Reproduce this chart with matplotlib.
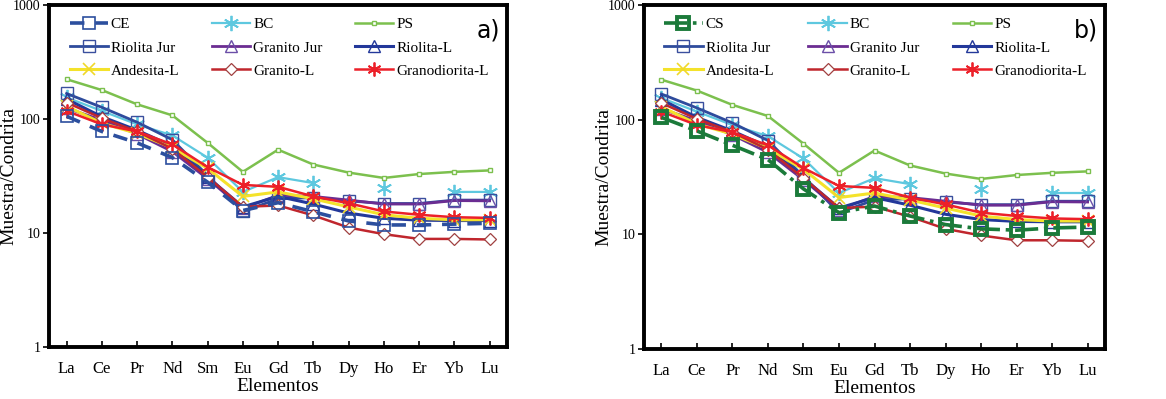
import numpy as np
import matplotlib
matplotlib.use('Agg')
import matplotlib.pyplot as plt

nan = np.nan
elementos = ['La', 'Ce', 'Pr', 'Nd', 'Sm', 'Eu', 'Gd', 'Tb', 'Dy', 'Ho', 'Er', 'Yb', 'Lu']

ce = [106, 78, 62, 46, 28, 15.8, 18.5, 15.4, 12.8, 11.8, 11.8, 12.0, 12.2]
cs = [105, 80, 60, 45, 25, 15.5, 17.7, 14.5, 12.2, 11.2, 10.9, 11.4, 11.6]
bc = [155, 118, 90, 72, 46, 23, 31, 27.5, nan, 25, nan, 23, 23]
ps = [224, 180, 135, 108, 62, 34.5, 54, 40, 34, 30.5, 33, 34.5, 35.5]
riolita_jur = [168, 127, 94, 66, 32, 15.5, 20, 20.5, 19.2, 18.2, 18.2, 19.5, 19.5]
granito_jur = [125, 98, 74, 52, 30, 16.5, 21.5, 21, 19.5, 18, 18, 19.3, 19.2]
riolita_l = [150, 105, 80, 58, 31, 17, 21, 18, 15, 13.5, 13, 12.9, 12.9]
andesita_l = [130, 92, 75, 56, 37, 21, 23, 20, 17, 14.5, 13.5, 13.1, 13.1]
granito_l = [140, 102, 78, 55, 31, 17, 17.5, 14.3, 11.2, 9.8, 8.9, 8.9, 8.8]
granodiorita_l = [118, 90, 78, 60, 38, 26.5, 25.5, 21, 18.3, 15.5, 14.5, 13.8, 13.6]

plt.rcParams['font.family'] = ['Liberation Serif', 'DejaVu Serif']

ASTER = (6, 2, 0)


def panel(ax, primero, etiqueta):
    x = np.arange(len(elementos))
    if primero == 'CE':
        ax.plot(x, ce, '--', color='#2c4f9e', lw=2.6, marker='s', ms=9, mfc='none',
                mec='#2c4f9e', mew=1.2, dashes=(4, 3), label='CE', zorder=3)
    else:
        ax.plot(x, cs, '-.', color='#1b7a3a', lw=2.6, marker='s', ms=9, mfc='none',
                mec='#1b7a3a', mew=2.8, label='CS', zorder=3)
    ax.plot(x, bc, '-', color='#5ec8df', lw=1.6, marker=ASTER, ms=11, mew=1.3,
            label='BC')
    ax.plot(x, ps, '-', color='#7cc04e', lw=1.8, marker='s', ms=3.5, mfc='white',
            mec='#7cc04e', label='PS')
    ax.plot(x, riolita_jur, '-', color='#2e4b9c', lw=2.0, marker='s', ms=9, mfc='none',
            mec='#3a4f9e', mew=1.0, label='Riolita Jur')
    ax.plot(x, granito_jur, '-', color='#6b2d92', lw=2.0, marker='^', ms=8, mfc='none',
            mec='#6b4fa8', mew=1.0, label='Granito Jur')
    ax.plot(x, riolita_l, '-', color='#23389a', lw=2.2, marker='^', ms=8, mfc='none',
            mec='#23389a', mew=1.0, label='Riolita-L')
    ax.plot(x, andesita_l, '-', color='#f4e22b', lw=2.2, marker='x', ms=8, mfc='none',
            mec='#f0d82a', mew=1.2, label='Andesita-L')
    ax.plot(x, granito_l, '-', color='#c0262d', lw=1.8, marker='D', ms=6, mfc='white',
            mec='#a04040', mew=0.9, label='Granito-L')
    ax.plot(x, granodiorita_l, '-', color='#ec2029', lw=1.8, marker=ASTER, ms=10,
            mec='#ec2029', mew=1.3, label='Granodiorita-L')

    ax.set_yscale('log')
    ax.set_ylim(1, 1000)
    ax.set_xlim(-0.5, 12.5)
    ax.set_xticks(x)
    ax.set_xticklabels(elementos, fontsize=12)
    ax.set_yticks([1, 10, 100, 1000])
    ax.set_yticklabels(['1', '10', '100', '1000'], fontsize=10)
    ax.yaxis.set_minor_locator(matplotlib.ticker.NullLocator())
    ax.tick_params(axis='x', direction='in', length=4, width=1.2, pad=10)
    ax.tick_params(axis='y', direction='out', length=4, width=1.2, pad=2)
    for s in ax.spines.values():
        s.set_linewidth(2.8)
    ax.set_xlabel('Elementos', fontsize=14, labelpad=1)
    ax.set_ylabel('Muestra/Condrita', fontsize=14)
    ax.yaxis.set_label_coords(-0.068, 0.5)

    h, l = ax.get_legend_handles_labels()
    # matplotlib fills legend columns first, reorder so rows read across
    orden = [0, 3, 6, 1, 4, 7, 2, 5, 8]
    h = [h[i] for i in orden]
    l = [l[i] for i in orden]
    ax.legend(h, l, ncol=3, loc='upper left', bbox_to_anchor=(0.025, 0.99, 0.955, 0.0),
              mode='expand', frameon=False, fontsize=11, handlelength=2.5,
              handletextpad=0.2, labelspacing=0.62, borderaxespad=0.2)
    ax.text(0.985, 0.925, etiqueta, transform=ax.transAxes, ha='right', va='center',
            fontsize=17, family='DejaVu Sans')


fig = plt.figure(figsize=(11.66, 3.99), dpi=100)
ax1 = fig.add_axes([0.042, 0.13, 0.393, 0.857])
ax2 = fig.add_axes([0.552, 0.125, 0.396, 0.862])
panel(ax1, 'CE', 'a)')
panel(ax2, 'CS', 'b)')
fig.savefig('out.png', dpi=100)
